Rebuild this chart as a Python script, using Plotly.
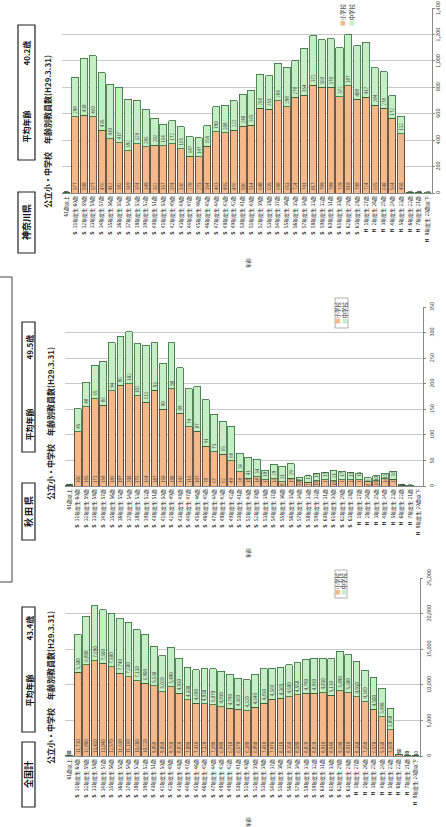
import plotly.graph_objects as go

W, H = 446, 827

# ---------------- data ----------------
ages = [61] + list(range(60, 22, -1)) + [22, 21, 20]

def era(age):
    fy = 2016 - age
    if fy >= 1989:
        return "H", fy - 1988
    return "S", fy - 1925

categories = []
tick_labels = []
for i, a in enumerate(ages):
    if i == 0:
        categories.append("61歳以上")
        tick_labels.append("61歳以上")
    else:
        e, y = era(a)
        lab = f"{a}歳" if a > 20 else "20歳以下"
        categories.append(lab)
        tick_labels.append(f"<b>{e}</b>   {y}年度生 {lab}")

kanagawa_elem = [1, 577, 590, 577, 476, 412, 382, 319, 374, 349, 362, 357, 374, 336, 278, 273, 354,
                 463, 455, 476, 506, 514, 640, 635, 698, 653, 724, 741, 817, 799, 799, 729, 810,
                 708, 724, 665, 640, 564, 450, 2, 1, 0]
kanagawa_jhs = [1, 298, 430, 460, 435, 410, 417, 392, 329, 286, 202, 164, 172, 165, 147, 147, 155,
                190, 208, 222, 240, 265, 258, 253, 284, 298, 278, 354, 372, 360, 370, 372, 387,
                408, 417, 284, 278, 172, 132, 1, 1, 1]

akita_elem = [1, 106, 155, 171, 158, 186, 197, 200, 176, 164, 187, 150, 190, 142, 116, 107, 78,
              67, 62, 49, 28, 15, 18, 12, 14, 8, 15, 10, 7, 10, 12, 10, 12, 12, 12, 8, 10, 14, 13, 1, 0, 0]
akita_jhs = [1, 45, 48, 65, 86, 94, 96, 102, 102, 111, 93, 90, 90, 89, 74, 87, 91,
             73, 65, 68, 36, 41, 34, 19, 29, 31, 29, 7, 13, 15, 15, 21, 17, 15, 13, 8, 10, 11, 16, 1, 1, 0]

national_elem = [60, 11730, 12800, 13410, 13040, 12570, 11630, 11160, 10600, 10220, 9850, 9050,
                 9760, 8820, 7880, 7410, 7320, 7180, 6940, 6710, 6570, 6380, 6850, 7410, 7970,
                 8110, 8350, 8580, 8820, 8820, 8910, 8540, 9190, 8910, 8350, 7650, 6570, 5530,
                 3660, 150, 40, 10]
national_jhs = [40, 5300, 6800, 7690, 7500, 7500, 7740, 7600, 7130, 6900, 5530, 5020,
                5490, 4930, 4600, 4690, 4930, 5070, 4930, 4780, 4360, 4320, 4640, 4830, 4360,
                4360, 4500, 4550, 4780, 4930, 4830, 5110, 5490, 5300, 4930, 4360, 4500, 3990,
                3050, 80, 20, 5]

kanagawa_ticks = [0, 200, 400, 600, 800, 1000, 1200, 1400]
akita_ticks = [0, 50, 100, 150, 200, 250, 300, 350]
national_ticks = [0, 5000, 10000, 15000, 20000, 25000]

panels = [
    dict(name="神奈川県", avg="40.2歳", elem=kanagawa_elem, jhs=kanagawa_jhs, ticks=kanagawa_ticks,
         x0=62, x1=432, top=8, base=193, tick_x=438,
         box_x=(18, 35), namebox=(192, 253), avgbox=(25, 160), avg_y=53, lab_y=127,
         title_x=47, title_y=132, leg_x=(343, 352), leg_y=15, leg_box=None, xt_y=263),
    dict(name="秋 田 県", avg="49.5歳", elem=akita_elem, jhs=akita_jhs, ticks=akita_ticks,
         x0=65, x1=423, top=307, base=486, tick_x=432,
         box_x=(22, 35), namebox=(483, 540), avgbox=(322, 452), avg_y=347, lab_y=425,
         title_x=50, title_y=424, leg_x=(338, 345), leg_y=313, leg_box=(335, 348, 298, 328), xt_y=553),
    dict(name="全国計", avg="43.4歳", elem=national_elem, jhs=national_jhs, ticks=national_ticks,
         x0=65, x1=420, top=578, base=756, tick_x=429,
         box_x=(22, 35), namebox=(742, 807), avgbox=(607, 732), avg_y=628, lab_y=691,
         title_x=50, title_y=688, leg_x=(338, 344), leg_y=584, leg_box=(335, 347, 570, 598), xt_y=822),
]

FONT = "Noto Sans CJK JP"
ORANGE = "#f3b98a"
ORANGE_LINE = "#4a3020"
GREEN = "#c6eec4"
GREEN_LINE = "#2c6a36"

def px(x):
    return x / W

def py(y):
    return 1 - y / H

fig = go.Figure()
shapes = []
annotations = []
layout_axes = {}

for i, p in enumerate(panels):
    n = "" if i == 0 else str(i + 1)
    xa, ya = "x" + n, "y" + n
    fig.add_trace(go.Bar(
        x=categories, y=p["elem"], xaxis=xa, yaxis=ya, name="小学校",
        marker=dict(color=ORANGE, line=dict(color=ORANGE_LINE, width=0.8)),
        text=[f"{v:,}" for v in p["elem"]], textposition="inside", insidetextanchor="start",
        textangle=-90, textfont=dict(size=4.5, color="#444", family=FONT), showlegend=False,
    ))
    fig.add_trace(go.Bar(
        x=categories, y=p["jhs"], xaxis=xa, yaxis=ya, name="中学校",
        marker=dict(color=GREEN, line=dict(color=GREEN_LINE, width=0.8)),
        text=[f"{v:,}" for v in p["jhs"]], textposition="inside", insidetextanchor="start",
        textangle=-90, textfont=dict(size=4.5, color="#444", family=FONT), showlegend=False,
    ))
    layout_axes["xaxis" + n] = dict(
        domain=[px(p["x0"]), px(p["x1"])], anchor=ya, type="category",
        tickmode="array", tickvals=categories, ticktext=tick_labels, tickangle=-90,
        tickfont=dict(size=5, color="#222", family=FONT), showline=True, linecolor="#888",
        linewidth=1, ticks="", showgrid=False, fixedrange=True,
    )
    layout_axes["yaxis" + n] = dict(
        domain=[py(p["base"]), py(p["top"])], anchor=xa, side="right",
        range=[0, p["ticks"][-1]], tickmode="array", tickvals=p["ticks"], showticklabels=False,
        showgrid=True, gridcolor="#c8c8c8", gridwidth=1, showline=True, linecolor="#888",
        linewidth=1, ticks="outside", ticklen=2, tickcolor="#888", zeroline=False, fixedrange=True,
    )
    # y tick labels (rotated, placed on the axis scale)
    for t in p["ticks"]:
        annotations.append(dict(x=px(p["tick_x"]), xref="paper", y=t, yref=ya,
                                text=f"{t:,}", textangle=-90,
                                font=dict(size=5.5, color="#444", family=FONT)))
    # boxes on the left
    bx0, bx1 = p["box_x"]
    for (yy0, yy1) in (p["namebox"], p["avgbox"]):
        shapes.append(dict(type="rect", xref="paper", yref="paper",
                           x0=px(bx0), x1=px(bx1), y0=py(yy1), y1=py(yy0),
                           line=dict(color="#222", width=1.2), fillcolor="white"))
    bxc = px((bx0 + bx1) / 2)
    annotations.append(dict(x=bxc, y=py(sum(p["namebox"]) / 2), text=f"<b>{p['name']}</b>",
                            textangle=-90, font=dict(size=9, color="#111", family=FONT)))
    annotations.append(dict(x=bxc, y=py(p["avg_y"]), text=f"<b>{p['avg']}</b>",
                            textangle=-90, font=dict(size=8, color="#111", family=FONT)))
    annotations.append(dict(x=bxc, y=py(p["lab_y"]), text="<b>平均年齢</b>",
                            textangle=-90, font=dict(size=8, color="#111", family=FONT)))
    annotations.append(dict(x=px(p["title_x"]), y=py(p["title_y"]),
                            text="<b>公立小・中学校　年齢別教員数(H29.3.31)</b>",
                            textangle=-90, font=dict(size=8, color="#222", family=FONT)))
    # legend
    if p["leg_box"]:
        lx0, lx1, ly0, ly1 = p["leg_box"]
        shapes.append(dict(type="rect", xref="paper", yref="paper",
                           x0=px(lx0), x1=px(lx1), y0=py(ly1), y1=py(ly0),
                           line=dict(color="#999", width=0.8), fillcolor="white"))
    for lx, lab, col in zip(p["leg_x"], ["小学校", "中学校"], [ORANGE, GREEN]):
        annotations.append(dict(x=px(lx), y=py(p["leg_y"]),
                                text=f"<span style='color:{col}'>■</span>{lab}",
                                textangle=-90, font=dict(size=5.5, color="#333", family=FONT)))
    annotations.append(dict(x=px(248), y=py(p["xt_y"]), text="年齢", textangle=-90,
                            font=dict(size=5, color="#333", family=FONT)))

# outer bracket
shapes.append(dict(type="rect", xref="paper", yref="paper", x0=px(-3), x1=px(12),
                   y0=py(582), y1=py(277), line=dict(color="#444", width=1)))

for a in annotations:
    a.setdefault("xref", "paper")
    a.setdefault("yref", "paper")
    a.update(showarrow=False, xanchor="center", yanchor="middle")

fig.update_layout(
    width=W, height=H, margin=dict(l=0, r=0, t=0, b=0),
    paper_bgcolor="white", plot_bgcolor="white", barmode="stack", bargap=0.2,
    uniformtext=dict(minsize=4.5, mode="show"),
    shapes=shapes, annotations=annotations, font=dict(family=FONT),
    **layout_axes,
)

fig.write_html(
    "out.html",
    config={"displayModeBar": False},
    post_script="document.body.style.margin='0';document.body.style.overflow='hidden';",
)
